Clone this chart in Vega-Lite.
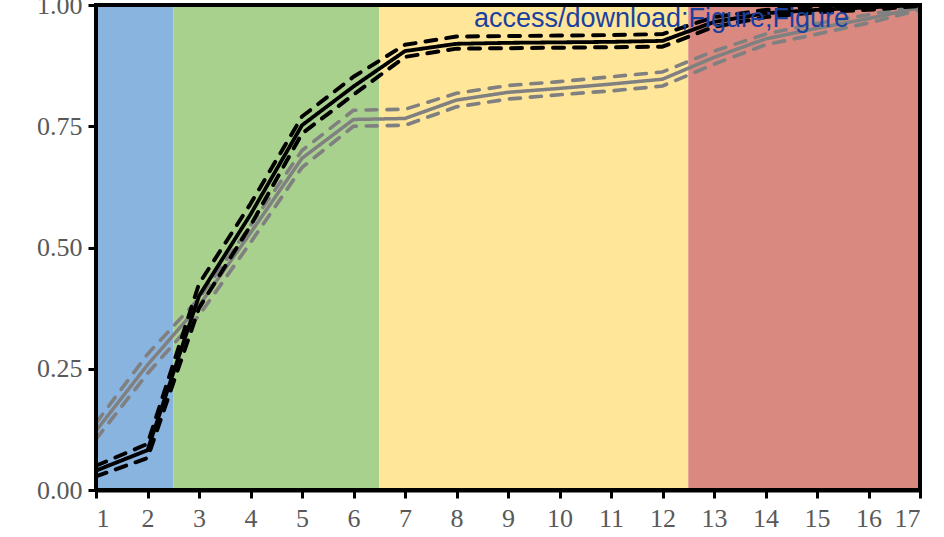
{
  "$schema": "https://vega.github.io/schema/vega-lite/v6.json",
  "autosize": {"type": "none"},
  "width": 824,
  "height": 485,
  "padding": {"left": 96, "top": 5, "right": 24, "bottom": 47},
  "background": "white",
  "config": {
    "view": {"stroke": null},
    "axis": {
      "labelFont": "Liberation Serif",
      "labelFontSize": 26,
      "labelColor": "#595959",
      "tickColor": "black",
      "tickWidth": 3,
      "tickSize": 8,
      "domainColor": "black",
      "domainWidth": 4,
      "grid": false,
      "title": null,
      "zindex": 1
    }
  },
  "datasets": {
    "bands": [
      {"phase": "P1", "start": 1, "end": 2.5},
      {"phase": "P2", "start": 2.5, "end": 6.5},
      {"phase": "P3", "start": 6.5, "end": 12.5},
      {"phase": "P4", "start": 12.5, "end": 17}
    ],
    "curves": [
      {"x": 1, "black_mean": 0.04, "black_upper": 0.05, "black_lower": 0.028, "gray_mean": 0.122, "gray_upper": 0.138, "gray_lower": 0.105},
      {"x": 2, "black_mean": 0.082, "black_upper": 0.095, "black_lower": 0.066, "gray_mean": 0.258, "gray_upper": 0.28, "gray_lower": 0.24},
      {"x": 3, "black_mean": 0.4, "black_upper": 0.425, "black_lower": 0.375, "gray_mean": 0.38, "gray_upper": 0.395, "gray_lower": 0.36},
      {"x": 4, "black_mean": 0.568, "black_upper": 0.59, "black_lower": 0.545, "gray_mean": 0.53, "gray_upper": 0.545, "gray_lower": 0.51},
      {"x": 5, "black_mean": 0.752, "black_upper": 0.77, "black_lower": 0.735, "gray_mean": 0.684, "gray_upper": 0.7, "gray_lower": 0.665},
      {"x": 6, "black_mean": 0.832, "black_upper": 0.852, "black_lower": 0.815, "gray_mean": 0.764, "gray_upper": 0.783, "gray_lower": 0.75},
      {"x": 7, "black_mean": 0.905, "black_upper": 0.918, "black_lower": 0.893, "gray_mean": 0.766, "gray_upper": 0.785, "gray_lower": 0.752},
      {"x": 8, "black_mean": 0.92, "black_upper": 0.935, "black_lower": 0.91, "gray_mean": 0.804, "gray_upper": 0.818, "gray_lower": 0.79},
      {"x": 9, "black_mean": 0.922, "black_upper": 0.936, "black_lower": 0.911, "gray_mean": 0.82, "gray_upper": 0.834, "gray_lower": 0.806},
      {"x": 10, "black_mean": 0.923, "black_upper": 0.937, "black_lower": 0.912, "gray_mean": 0.828, "gray_upper": 0.842, "gray_lower": 0.815},
      {"x": 11, "black_mean": 0.924, "black_upper": 0.938, "black_lower": 0.913, "gray_mean": 0.837, "gray_upper": 0.852, "gray_lower": 0.823},
      {"x": 12, "black_mean": 0.926, "black_upper": 0.94, "black_lower": 0.914, "gray_mean": 0.847, "gray_upper": 0.862, "gray_lower": 0.833},
      {"x": 13, "black_mean": 0.965, "black_upper": 0.975, "black_lower": 0.955, "gray_mean": 0.892, "gray_upper": 0.905, "gray_lower": 0.878},
      {"x": 14, "black_mean": 0.983, "black_upper": 0.99, "black_lower": 0.975, "gray_mean": 0.93, "gray_upper": 0.94, "gray_lower": 0.918},
      {"x": 15, "black_mean": 0.99, "black_upper": 0.997, "black_lower": 0.985, "gray_mean": 0.952, "gray_upper": 0.962, "gray_lower": 0.94},
      {"x": 16, "black_mean": 0.995, "black_upper": 1.0, "black_lower": 0.99, "gray_mean": 0.972, "gray_upper": 0.98, "gray_lower": 0.963},
      {"x": 17, "black_mean": 1.0, "black_upper": 1.0, "black_lower": 0.998, "gray_mean": 0.995, "gray_upper": 1.0, "gray_lower": 0.99}
    ]
  },
  "encoding": {
    "x": {"type": "quantitative", "scale": {"domain": [1, 17], "nice": false, "zero": false},
          "axis": {"values": [1,2,3,4,5,6,7,8,9,10,11,12,13,14,15,16,17], "format": "d", "labelPadding": 7}},
    "y": {"type": "quantitative", "scale": {"domain": [0, 1], "nice": false},
          "axis": {"values": [0, 0.25, 0.5, 0.75, 1], "format": ".2f", "labelPadding": 6}}
  },
  "layer": [
    {
      "data": {"name": "bands"},
      "mark": {"type": "rect"},
      "encoding": {
        "x": {"field": "start", "type": "quantitative"},
        "x2": {"field": "end"},
        "y": {"datum": 0},
        "y2": {"datum": 1},
        "color": {"field": "phase", "type": "nominal", "legend": null,
                  "scale": {"domain": ["P1", "P2", "P3", "P4"], "range": ["#8AB4E0", "#A9D18E", "#FFE699", "#DA8981"]}}
      }
    },
    {
      "data": {"name": "curves"},
      "transform": [
        {"fold": ["gray_mean", "gray_upper", "gray_lower"], "as": ["series", "value"]}
      ],
      "mark": {"type": "line", "color": "#808080", "strokeCap": "round", "strokeJoin": "round"},
      "encoding": {
        "x": {"field": "x", "type": "quantitative"},
        "y": {"field": "value", "type": "quantitative"},
        "strokeDash": {"field": "series", "type": "nominal", "legend": null,
                       "scale": {"domain": ["gray_mean", "gray_upper", "gray_lower"], "range": [[1, 0], [11, 10], [11, 10]]}},
        "strokeWidth": {"field": "series", "type": "nominal", "legend": null,
                        "scale": {"domain": ["gray_mean", "gray_upper", "gray_lower"], "range": [3.5, 4, 4]}}
      }
    },
    {
      "data": {"name": "curves"},
      "transform": [
        {"fold": ["black_mean", "black_upper", "black_lower"], "as": ["series", "value"]}
      ],
      "mark": {"type": "line", "color": "black", "strokeCap": "round", "strokeJoin": "round"},
      "encoding": {
        "x": {"field": "x", "type": "quantitative"},
        "y": {"field": "value", "type": "quantitative"},
        "strokeDash": {"field": "series", "type": "nominal", "legend": null,
                       "scale": {"domain": ["black_mean", "black_upper", "black_lower"], "range": [[1, 0], [9, 9], [9, 9]]}},
        "strokeWidth": {"field": "series", "type": "nominal", "legend": null,
                        "scale": {"domain": ["black_mean", "black_upper", "black_lower"], "range": [4, 4, 4]}}
      }
    },
    {
      "data": {"values": [{"label": "access/download;Figure;Figure"}]},
      "mark": {"type": "text", "font": "Liberation Sans", "fontSize": 27, "color": "#1A40A0", "align": "center", "baseline": "alphabetic"},
      "encoding": {
        "x": {"datum": 11.98},
        "y": {"datum": 0.955},
        "text": {"field": "label"}
      }
    },
    {
      "data": {"values": [{}]},
      "mark": {"type": "rect", "fill": null, "fillOpacity": 0, "stroke": "black", "strokeWidth": 4},
      "encoding": {}
    }
  ]
}
